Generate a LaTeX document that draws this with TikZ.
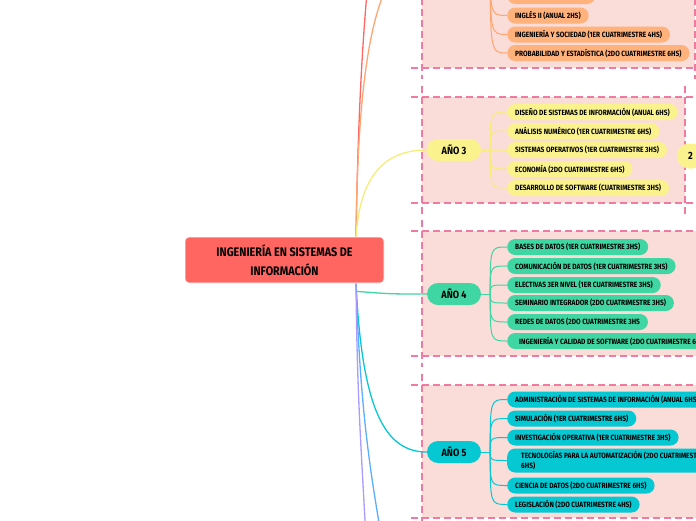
\documentclass[tikz,border=0pt]{standalone}
\usepackage{fontspec}
\setmainfont{Fira Sans}[FakeStretch=0.87]
\usepackage{xcolor}
\usetikzlibrary{calc}
\definecolor{rootred}{HTML}{FF6661}
\definecolor{boxpink}{HTML}{FADCD9}
\definecolor{dashpink}{HTML}{F07AA0}
\definecolor{orangefill}{HTML}{FFB27B}
\definecolor{orangeline}{HTML}{FFA670}
\definecolor{yellowfill}{HTML}{FAF28C}
\definecolor{yellowline}{HTML}{F8EC78}
\definecolor{greenfill}{HTML}{40D6A3}
\definecolor{cyanfill}{HTML}{05C8D2}
\definecolor{blueline}{HTML}{5AAEFF}
\definecolor{purpleline}{HTML}{A89CFF}

\pgfdeclarelayer{boxes}
\pgfdeclarelayer{links}
\pgfsetlayers{boxes,links,main}

\newcommand{\yearbox}[4]{%
  \fill[boxpink] (#1,#2) rectangle (#3,#4);
  \draw[edge] (#1-11,#2) -- (#3+11,#2);
  \draw[edge] (#1-11,#4) -- (#3+11,#4);
  \draw[edge] (#1,#2-11) -- (#1,#4+11);
  \draw[edge] (#3,#2-11) -- (#3,#4+11);}

\begin{document}
\begin{tikzpicture}[x=1pt, y=-1pt,
  yearnode/.style={fill=#1, rounded corners=11pt, minimum width=54pt, minimum height=22pt,
    inner sep=0pt, font=\fontsize{10.5}{11}\selectfont\bfseries},
  subject/.style={fill=#1, rounded corners=8pt, minimum height=16pt, inner xsep=8pt,
    inner ysep=2pt, anchor=west, align=left, font=\fontsize{7.6}{10}\selectfont\bfseries},
  edge/.style={draw=dashpink, dash pattern=on 7pt off 4pt, line width=1.1pt},
  link/.style={draw=#1, line width=1.3pt},
  sublink/.style={draw=#1, line width=1pt}]
  \useasboundingbox (0,0) rectangle (696,520);

  \begin{pgfonlayer}{boxes}
    \yearbox{422}{-90}{695}{68}
    \yearbox{422}{97}{685}{203}
    \yearbox{422}{231}{760}{356}
    \yearbox{422}{385}{760}{518}
  \end{pgfonlayer}

  % central topic
  \node[fill=rootred, draw=white, line width=0.6pt, rounded corners=4pt, minimum width=199pt,
    minimum height=46pt, align=center, font=\fontsize{12.4}{19}\selectfont\bfseries]
    (sis) at (284.5,260) {INGENIERÍA EN SISTEMAS DE\\INFORMACIÓN};
  \coordinate (hubN) at ([xshift=71.5]sis.north);
  \coordinate (hubS) at ([xshift=71.5]sis.south);

  % year nodes
  \node[yearnode=orangefill] (anio2) at (454,-45) {AÑO 2};
  \node[yearnode=yellowfill] (anio3) at (454,150) {AÑO 3};
  \node[yearnode=greenfill] (anio4) at (454,294) {AÑO 4};
  \node[yearnode=cyanfill] (anio5) at (454,452) {AÑO 5};
  \coordinate (y1end) at (370,-40);
  \coordinate (y6end) at (382,540);
  \coordinate (y7end) at (366,540);

  % second year
  \node[subject=orangefill, minimum width=88pt] (s2d) at (507,-4) {};
  \node[subject=orangefill] (s2e) at (507,15.5) {INGLÉS II (ANUAL 2HS)};
  \node[subject=orangefill] (s2f) at (507,34.5) {INGENIERÍA Y SOCIEDAD (1ER CUATRIMESTRE 4HS)};
  \node[subject=orangefill] (s2g) at (507,53) {PROBABILIDAD Y ESTADÍSTICA (2DO CUATRIMESTRE 6HS)};

  % third year
  \node[subject=yellowfill] (s3a) at (507,112) {DISEÑO DE SISTEMAS DE INFORMACIÓN (ANUAL 6HS)};
  \node[subject=yellowfill] (s3b) at (507,131) {ANÁLISIS NUMÉRICO (1ER CUATRIMESTRE 6HS)};
  \node[subject=yellowfill] (s3c) at (507,150) {SISTEMAS OPERATIVOS (1ER CUATRIMESTRE 3HS)};
  \node[subject=yellowfill] (s3d) at (507,169) {ECONOMÍA (2DO CUATRIMESTRE 6HS)};
  \node[subject=yellowfill] (s3e) at (507,188) {DESARROLLO DE SOFTWARE (CUATRIMESTRE 3HS)};
  \node[fill=yellowfill, rounded corners=12pt, minimum height=25pt, inner xsep=11pt, anchor=west,
    font=\fontsize{10.5}{11}\selectfont\bfseries] (sum3) at (677,156) {2};

  % fourth year
  \node[subject=greenfill] (s4a) at (507,247) {BASES DE DATOS (1ER CUATRIMESTRE 3HS)};
  \node[subject=greenfill] (s4b) at (507,266) {COMUNICACIÓN DE DATOS (1ER CUATRIMESTRE 3HS)};
  \node[subject=greenfill] (s4c) at (507,285) {ELECTIVAS 3ER NIVEL (1ER CUATRIMESTRE 3HS)};
  \node[subject=greenfill] (s4d) at (507,303) {SEMINARIO INTEGRADOR (2DO CUATRIMESTRE 3HS)};
  \node[subject=greenfill] (s4e) at (507,322) {REDES DE DATOS (2DO CUATRIMESTRE 3HS};
  \node[subject=greenfill, inner xsep=12pt] (s4f) at (507,341) {INGENIERÍA Y CALIDAD DE SOFTWARE (2DO CUATRIMESTRE 6HS)};

  % fifth year
  \node[subject=cyanfill] (s5a) at (507,399.5) {ADMINISTRACIÓN DE SISTEMAS DE INFORMACIÓN (ANUAL 6HS)};
  \node[subject=cyanfill] (s5b) at (507,418.5) {SIMULACIÓN (1ER CUATRIMESTRE 6HS)};
  \node[subject=cyanfill] (s5c) at (507,437.5) {INVESTIGACIÓN OPERATIVA (1ER CUATRIMESTRE 3HS)};
  \node[subject=cyanfill, minimum height=24pt, inner xsep=14pt] (s5d) at (507,460.5)
    {TECNOLOGÍAS PARA LA AUTOMATIZACIÓN (2DO CUATRIMESTRE\\6HS)};
  \node[subject=cyanfill] (s5e) at (507,485.5) {CIENCIA DE DATOS (2DO CUATRIMESTRE 6HS)};
  \node[subject=cyanfill] (s5f) at (507,504.5) {LEGISLACIÓN (2DO CUATRIMESTRE 4HS)};

  \begin{pgfonlayer}{links}
    \draw[link=rootred] (hubN) .. controls (358,120) and (362,40) .. (y1end);
    \draw[link=orangeline] (hubN) .. controls (358,40) and (380,-45) .. (anio2.west);
    \draw[link=yellowline] (hubN) .. controls (360,175) and (385,150) .. (anio3.west);
    \draw[link=greenfill] ([yshift=-8]hubS) .. controls (390,294) .. (anio4.west);
    \draw[link=cyanfill] (hubS) .. controls (362,410) and (385,452) .. (anio5.west);
    \draw[link=blueline] (hubS) .. controls (360,400) and (368,460) .. (y6end);
    \draw[link=purpleline] (hubS) .. controls (357,400) and (362,460) .. (y7end);

    \foreach \yr/\col/\kids in {2/orangeline/{s2d,s2e,s2f,s2g},
        3/yellowline/{s3a,s3b,s3c,s3d,s3e},
        4/greenfill/{s4a,s4b,s4c,s4d,s4e,s4f},
        5/cyanfill/{s5a,s5b,s5c,s5d,s5e,s5f}} {
      \coordinate (f\yr) at ([xshift=9]anio\yr.east);
      \draw[sublink=\col] (anio\yr.east) -- (f\yr);
      \foreach \c in \kids
        \draw[sublink=\col] (f\yr) .. controls (f\yr |- \c.west) .. (\c.west);
    }
  \end{pgfonlayer}
\end{tikzpicture}
\end{document}
